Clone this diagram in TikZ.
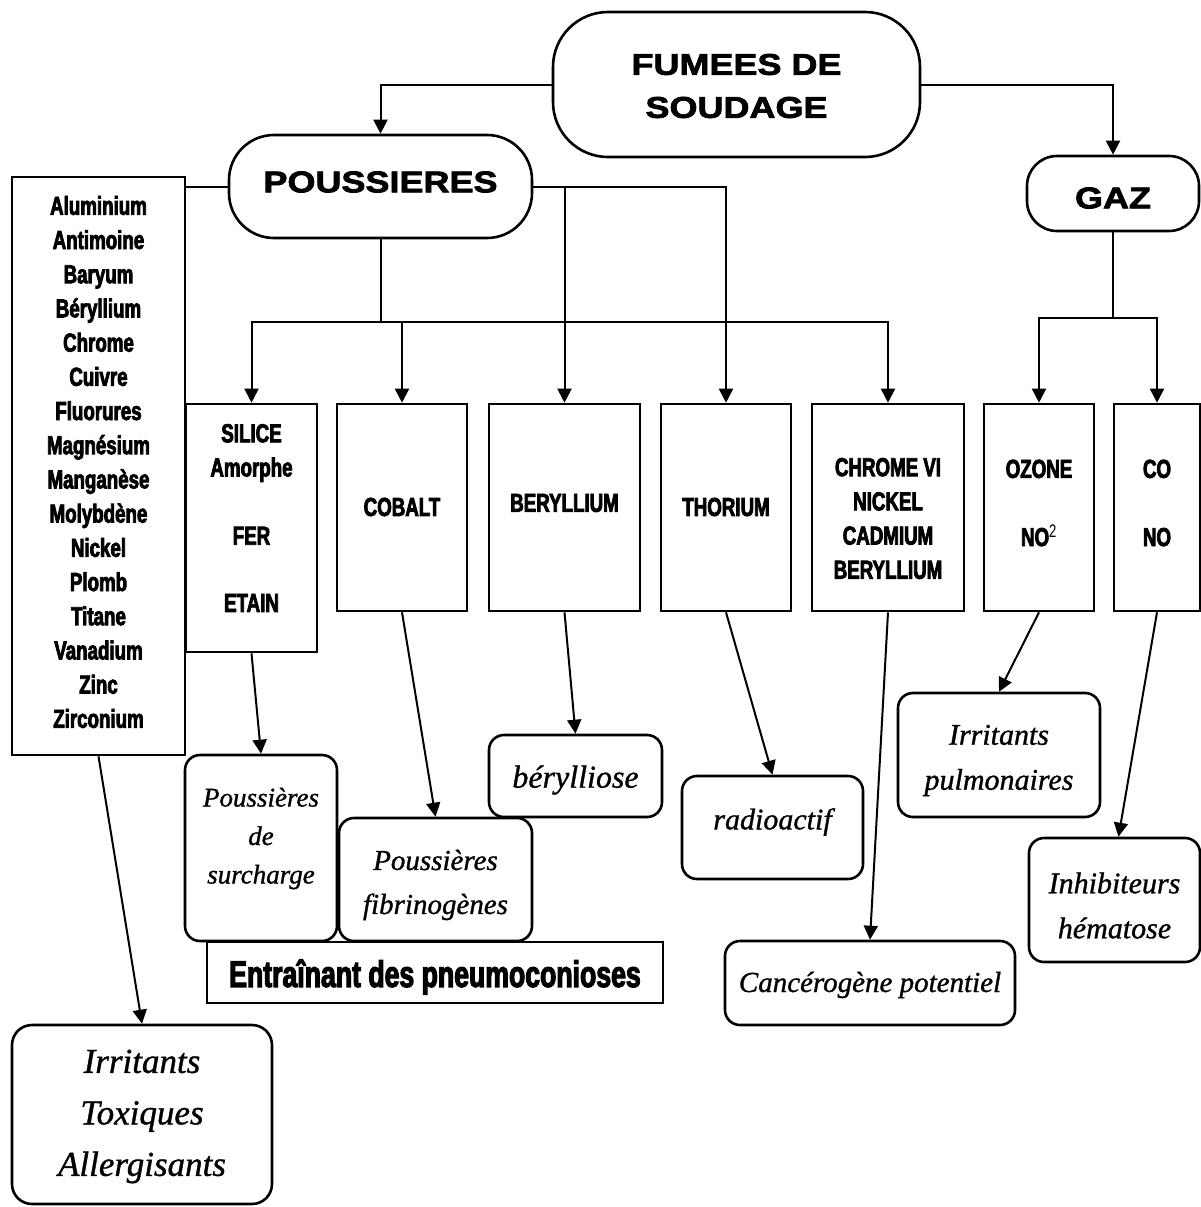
\documentclass[tikz,border=0pt]{standalone}
\usepackage{fontspec}
\usetikzlibrary{arrows.meta}
\newfontfamily\widefont[FakeStretch=1.2, BoldFeatures={FakeBold=2.5}]{Liberation Sans}
\newfontfamily\condfont[FakeStretch=0.72, BoldFeatures={FakeBold=3}]{Liberation Sans}
\newfontfamily\brushfont[ItalicFeatures={FakeBold=1}]{Liberation Serif}
\begin{document}
\begin{tikzpicture}[x=1pt,y=-1pt,
  box/.style={draw, line width=2.6pt, inner sep=0pt},
  sq/.style={box, rectangle},
  rbox/.style={box, rounded corners=15pt},
  wtext/.style={align=center, inner sep=0pt, font=\widefont\bfseries\fontsize{30}{43}\selectfont},
  ctext/.style={align=center, inner sep=0pt, font=\condfont\bfseries\fontsize{26}{34.2}\selectfont},
  stext/.style={align=center, inner sep=0pt, font=\brushfont\itshape\fontsize{27}{38.5}\selectfont},
  conn/.style={line width=2pt},
  arr/.style={conn, -{Triangle[length=14pt,width=14pt]}}
]
\useasboundingbox (0,0) rectangle (1201,1207);

% top level
\node[box, rounded corners=55pt, minimum width=367pt, minimum height=145pt] (fumees) at (736.5,84.5) {};
\node[wtext] (fumees-t) at (736.5,86) {FUMEES DE\\SOUDAGE};
\node[box, rounded corners=45pt, minimum width=303pt, minimum height=103pt] (pous) at (380.5,186.5) {};
\node[wtext] (pous-t) at (380.5,182) {POUSSIERES};
\node[box, rounded corners=30pt, minimum width=172pt, minimum height=75pt] (gaz) at (1113,193.5) {};
\node[wtext] (gaz-t) at (1113,198) {GAZ};

% list
\node[sq, minimum width=173pt, minimum height=578pt] (list) at (98.5,466) {};
\node[ctext] (list-t) at (98.5,462) {Aluminium\\Antimoine\\Baryum\\Béryllium\\Chrome\\Cuivre\\Fluorures\\Magnésium\\Manganèse\\Molybdène\\Nickel\\Plomb\\Titane\\Vanadium\\Zinc\\Zirconium};

% middle row
\node[sq, minimum width=131pt, minimum height=248pt] (silice) at (251.5,528) {};
\node[ctext] (silice-t) at (251.5,518) {SILICE\\Amorphe\\[34pt]FER\\[33pt]ETAIN};
\node[sq, minimum width=130pt, minimum height=207pt] (cobalt) at (402,507.5) {};
\node[ctext] (cobalt-t) at (402,507) {COBALT};
\node[sq, minimum width=151pt, minimum height=207pt] (beryl) at (564.5,507.5) {};
\node[ctext] (beryl-t) at (564.5,503) {BERYLLIUM};
\node[sq, minimum width=130pt, minimum height=207pt] (thor) at (726,507.5) {};
\node[ctext] (thor-t) at (726,507) {THORIUM};
\node[sq, minimum width=152pt, minimum height=207pt] (chrome) at (888,507.5) {};
\node[ctext] (chrome-t) at (888,518.5) {CHROME VI\\NICKEL\\CADMIUM\\BERYLLIUM};
\node[sq, minimum width=110pt, minimum height=207pt] (ozone) at (1039,507.5) {};
\node[ctext] (ozone-t) at (1039,503) {OZONE\\[34pt]NO\textsuperscript{\mdseries 2}};
\node[sq, minimum width=86pt, minimum height=207pt] (co) at (1157,507.5) {};
\node[ctext] (co-t) at (1157,503) {CO\\[34pt]NO};

% lower boxes
\node[rbox, minimum width=152pt, minimum height=186pt] (surch) at (261,848) {};
\node[stext] (surch-t) at (261,838.5) {Poussières\\de\\surcharge};
\node[rbox, minimum width=193pt, minimum height=123pt] (fibr) at (435.5,879.5) {};
\node[stext, font=\brushfont\itshape\fontsize{29}{44}\selectfont] (fibr-t) at (435.5,885) {Poussières\\fibrinogènes};
\node[rbox, minimum width=173pt, minimum height=82pt] (berylose) at (575.5,776) {};
\node[stext, font=\brushfont\itshape\fontsize{32}{44}\selectfont] (berylose-t) at (575.5,780) {bérylliose};
\node[sq, minimum width=456pt, minimum height=61pt] (entr) at (435,972.5) {};
\node[ctext, font=\condfont\bfseries\fontsize{37}{40}\selectfont] (entr-t) at (435,977) {Entraînant des pneumoconioses};
\node[rbox, rounded corners=20pt, minimum width=260pt, minimum height=179pt] (irr) at (142,1114.5) {};
\node[stext, font=\brushfont\itshape\fontsize{35}{51.5}\selectfont] (irr-t) at (142,1116.5) {Irritants\\Toxiques\\Allergisants};
\node[rbox, minimum width=181pt, minimum height=103pt] (radio) at (772.5,827.5) {};
\node[stext, font=\brushfont\itshape\fontsize{30}{40}\selectfont] (radio-t) at (772.5,822) {radioactif};
\node[rbox, minimum width=290pt, minimum height=84pt] (canc) at (870,983) {};
\node[stext, font=\brushfont\itshape\fontsize{29}{44}\selectfont] (canc-t) at (870,985) {Cancérogène potentiel};
\node[rbox, minimum width=202pt, minimum height=124pt] (irrpul) at (999,755) {};
\node[stext, font=\brushfont\itshape\fontsize{30}{45}\selectfont] (irrpul-t) at (999,760.5) {Irritants\\pulmonaires};
\node[rbox, minimum width=171pt, minimum height=124pt] (inhib) at (1114.5,900) {};
\node[stext, font=\brushfont\itshape\fontsize{30}{45}\selectfont] (inhib-t) at (1114.5,905.5) {Inhibiteurs\\hématose};

% connectors
\draw[arr] (fumees.west) -| (pous.north);
\draw[arr] (fumees.east) -| (gaz.north);
\coordinate (lj) at (list.east |- pous.west);
\draw[conn] (pous.west) -- (lj);
\draw[conn] (pous.south) -- ++(0,83) coordinate (pj);
\draw[arr] (pj) -| (silice.north);
\draw[arr] (pj) -| (cobalt.north);
\draw[arr] (pj) -| (chrome.north);
\draw[arr] (pous.east) -| (beryl.north);
\draw[arr] (pous.east) -| (thor.north);
\draw[conn] (gaz.south) -- ++(0,86) coordinate (gj);
\draw[arr] (gj) -| (ozone.north);
\draw[arr] (gj) -| (co.north);

\draw[arr] (list.south) -- (irr.north);
\draw[arr] (silice.south) -- (surch.north);
\draw[arr] (cobalt.south) -- (fibr.north);
\draw[arr] (beryl.south) -- (berylose.north);
\draw[arr] (thor.south) -- (radio.north);
\draw[arr] (chrome.south) -- (canc.north);
\draw[arr] (ozone.south) -- (irrpul.north);
\draw[arr] (co.south) -- ([xshift=4pt]inhib.north);
\end{tikzpicture}
\end{document}
